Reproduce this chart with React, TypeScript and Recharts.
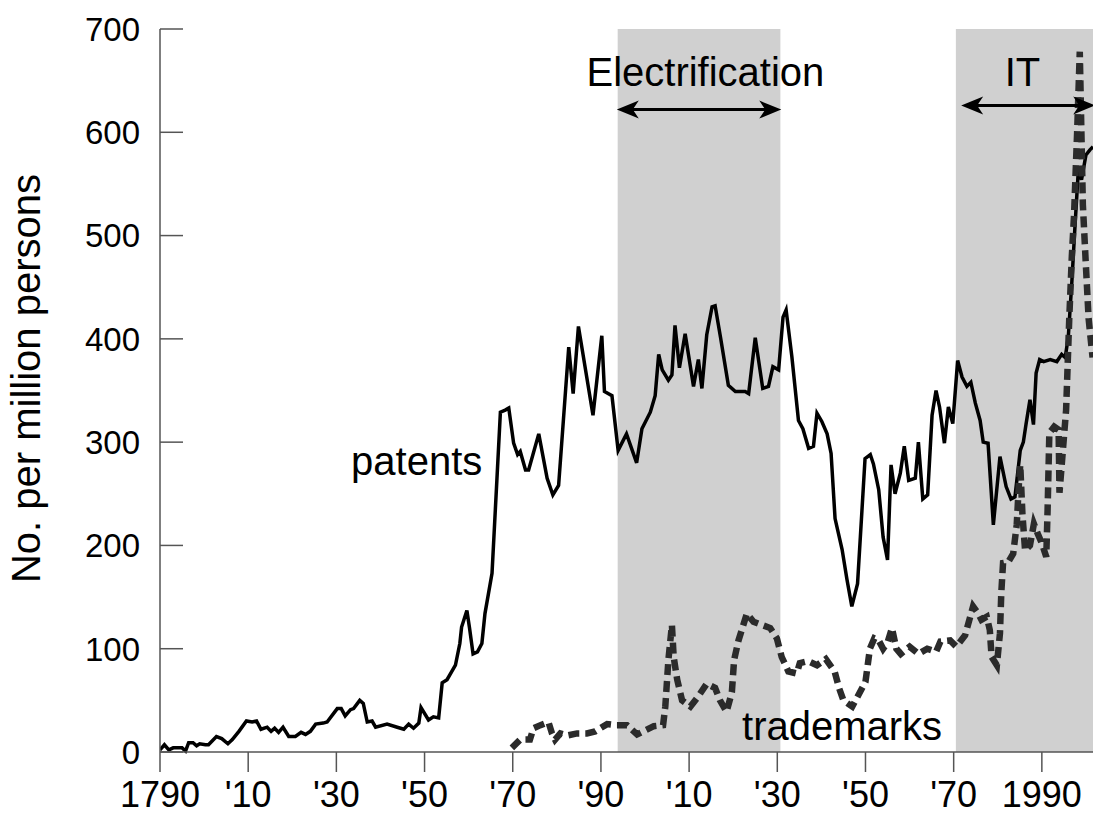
import React from 'react'
import {Label, Line, LineChart, ReferenceArea, ReferenceDot, ReferenceLine, XAxis, YAxis} from 'recharts'

const font = '"Liberation Sans", Arial, Helvetica, sans-serif'

// patents per million persons
const patentYears = [
    1790, 1791, 1792, 1793, 1795, 1795.8, 1796.5, 1797.5, 1798.3, 1799, 1800.3, 1801, 1802.8, 1804, 1805.4, 1806.4,
    1807.9, 1809.6, 1810.9, 1811.9, 1812.9, 1814.3, 1815.2, 1816, 1816.9, 1817.9, 1819.2, 1820.7, 1822, 1823, 1824.1,
    1825.3, 1827, 1827.9, 1830.2, 1831.1, 1832, 1833.2, 1833.9, 1835.3, 1836.1, 1837, 1838.1, 1838.9, 1841.5, 1843.8,
    1845.3, 1846.4, 1847.5, 1848.7, 1849.2, 1850.9, 1852, 1853.2, 1854, 1855.1, 1857, 1858, 1858.4, 1859.6, 1860.2,
    1861, 1862, 1863, 1863.7, 1865.3, 1866.4, 1867.2, 1868.3, 1869.1, 1870.2, 1871.1, 1871.7, 1872.9, 1873.6, 1875.9,
    1877.8, 1879.1, 1880.4, 1882.7, 1883.7, 1884.9, 1888.2, 1890.2, 1890.8, 1892.5, 1893.9, 1895.8, 1898.1, 1899.3,
    1901.2, 1902.3, 1903.1, 1903.9, 1905.3, 1906.1, 1906.8, 1907.8, 1909.1, 1911, 1912.1, 1912.9, 1914, 1915.2, 1915.9,
    1917.1, 1918.9, 1920.5, 1922.7, 1923.5, 1925, 1926.7, 1928, 1929, 1930.3, 1931.3, 1932, 1933.3, 1934.8, 1935.8,
    1937.1, 1938.2, 1939, 1940.1, 1941.3, 1942.2, 1943.1, 1944.7, 1945.8, 1946.9, 1948.2, 1949.2, 1949.9, 1951.1,
    1951.8, 1953, 1954, 1955, 1955.8, 1956.7, 1957.9, 1958.8, 1959.8, 1961.3, 1962, 1963, 1964.1, 1965.1, 1966, 1966.8,
    1967.9, 1968.8, 1969.8, 1970.9, 1971.9, 1973, 1973.9, 1974.9, 1976, 1976.7, 1977.8, 1979, 1980.5, 1981.9, 1983,
    1983.9, 1985.1, 1985.8, 1986.4, 1987.3, 1988.1, 1988.7, 1989.5, 1990.4, 1991.9, 1993.4, 1994.5, 1995.3, 1996,
    1996.8, 1997.5, 1998.3, 1999, 2000, 2000.9, 2001.6,
]
const patentValues = [
    2, 7, 2, 4, 4, 1, 9, 9, 6, 8, 7, 7, 15, 13, 8, 12,
    20, 30, 29, 30, 22, 24, 20, 23, 19, 24, 15, 15, 19, 17, 20,
    27, 28, 29, 42, 42, 35, 41, 42, 50, 47, 29, 30, 24, 27, 24,
    22, 27, 23, 28, 43, 31, 34, 33, 67, 70, 84, 105, 121, 137, 120,
    95, 97, 105, 134, 173, 263, 329, 331, 333, 299, 288, 291, 273, 273, 308,
    265, 249, 258, 392, 347, 412, 326, 403, 349, 345, 292, 308, 280, 313,
    329, 345, 385, 370, 360, 365, 413, 372, 405, 354, 380, 352, 404, 431, 432,
    402, 355, 349, 349, 347, 401, 352, 354, 373, 370, 421, 428, 383, 321, 313,
    294, 296, 328, 320, 308, 289, 226, 196, 167, 141, 163, 234, 284, 288,
    279, 254, 208, 186, 278, 250, 270, 296, 263, 265, 300, 245, 249, 326, 350, 334,
    299, 334, 318, 379, 363, 354, 358, 338, 321, 300, 299, 220, 286, 257, 245,
    247, 292, 300, 317, 341, 317, 367, 380, 378, 380, 378, 385, 382, 402,
    455, 508, 565, 554, 578, 583, 586,
]

// trademarks per million persons
const trademarkYears = [
    1869.8, 1871.7, 1873.9, 1874.7, 1876.3, 1878.1, 1878.9, 1879.6, 1880.8, 1882.4, 1884.6, 1886.8, 1888.7, 1891.4,
    1893.3, 1895.9, 1898.2, 1900.1, 1902, 1904.1, 1904.6, 1905.3, 1906.1, 1906.5, 1907.3, 1908.4, 1910.3, 1912.1, 1914,
    1915.9, 1917, 1918.5, 1919.7, 1920.2, 1921.2, 1923.1, 1924.6, 1926.5, 1928.4, 1929.9, 1931, 1932.5, 1934.4, 1935.1,
    1937, 1939, 1941, 1943, 1944, 1945, 1947, 1948, 1950, 1951, 1952, 1953, 1954, 1955, 1956, 1957, 1958, 1960, 1962,
    1964, 1966, 1967, 1969.2, 1970.6, 1972.6, 1974.4, 1975.6, 1976.3, 1977.5, 1978.2, 1978.6, 1979.8, 1980.5, 1980.8,
    1981.2, 1982.4, 1983.5, 1984.3, 1984.8, 1985.1, 1985.6, 1986.2, 1987.3, 1988.2, 1989, 1990, 1991, 1991.3, 1991.7,
    1992.8, 1993.8, 1994, 1995.5, 1996.2, 1996.8, 1997.3, 1998, 1998.6, 1999.3, 2000, 2000.6, 2001.5,
]
const trademarkValues = [
    4, 12, 12, 23, 26, 29, 18, 12, 18, 16, 18, 18, 20, 27,
    26, 26, 17, 21, 25, 26, 44, 89, 123, 92, 70, 50, 44, 54, 66,
    62, 50, 39, 58, 89, 108, 134, 126, 123, 120, 110, 92, 78, 76, 86,
    88, 84, 90, 78, 62, 50, 44, 52, 68, 100, 110, 108, 100, 106, 120, 100, 95, 102, 95,
    100, 97, 107, 108, 102, 113, 141, 134, 128, 131, 118, 92, 84, 115, 154,
    183, 184, 192, 220, 260, 278, 230, 195, 200, 221, 212, 202, 189, 234, 309,
    315, 312, 251, 331, 418, 480, 520, 600, 678, 530, 470, 420, 382,
]

const xTicks = [1790, 1810, 1830, 1850, 1870, 1890, 1910, 1930, 1950, 1970, 1990]
const xTickLabels = ['1790', "'10", "'30", "'50", "'70", "'90", "'10", "'30", "'50", "'70", '1990']
const yTicks = [0, 100, 200, 300, 400, 500, 600, 700]

const eras = [
    {name: 'Electrification', from: 1893.8, to: 1930.7, arrowFrom: 1893.6, arrowTo: 1930.9, arrowAt: 622, textAt: 1913.7},
    {name: 'IT', from: 1970.5, to: 2001.6, arrowFrom: 1971.7, arrowTo: 2002.1, arrowAt: 626, textAt: 1985.6},
]

const patentData = patentYears.map((year, i) => ({year, value: patentValues[i]}))
const trademarkData = trademarkYears.map((year, i) => ({year, value: trademarkValues[i]}))

const YTick = (props: any) => {
    const {x, y, payload} = props
    return (
        <g>
            <line x1={x + 20} y1={y} x2={x + 43} y2={y} stroke="#555" strokeWidth={1.5} />
            <text x={x} y={y} dy="0.36em" textAnchor="end" fontSize={33} fill="#000" fontFamily={font}>
                {payload.value}
            </text>
        </g>
    )
}

const YTitle = (props: any) => {
    const vb = props.viewBox || {x: 0, y: 29, width: 160, height: 723}
    const px = vb.x + 40
    const py = vb.y + vb.height / 2 - 12
    return (
        <text x={px} y={py} transform={`rotate(-90 ${px} ${py})`} textAnchor="middle" fontSize={40} fill="#000" fontFamily={font}>
            No. per million persons
        </text>
    )
}

const DoubleArrow = (props: any) => {
    const {x1, y1, x2} = props
    const len = 22
    const half = 9
    return (
        <g>
            <line x1={x1 + 6} y1={y1} x2={x2 - 6} y2={y1} stroke="#000" strokeWidth={3} />
            <polygon points={`${x1},${y1} ${x1 + len},${y1 - half} ${x1 + len - 6},${y1} ${x1 + len},${y1 + half}`} fill="#000" />
            <polygon points={`${x2},${y1} ${x2 - len},${y1 - half} ${x2 - len + 6},${y1} ${x2 - len},${y1 + half}`} fill="#000" />
        </g>
    )
}

const textShape = (text: string, anchor: 'start' | 'middle' | 'end') => (props: any) => (
    <text x={props.cx} y={props.cy} textAnchor={anchor} fontSize={40} fill="#000" fontFamily={font}>
        {text}
    </text>
)

const App = () => {
    return (
        <div style={{position: 'absolute', left: 0, top: 0, background: '#fff'}}>
            <LineChart width={1093} height={822} margin={{top: 29, right: 0, bottom: 0, left: 0}}>
                {eras.map((e) => (
                    <ReferenceArea key={e.name} x1={e.from} x2={e.to} y1={0} y2={700} fill="#d0d0d0" fillOpacity={1} stroke="none" ifOverflow="visible" />
                ))}
                <XAxis
                    type="number"
                    dataKey="year"
                    domain={[1790, 2001.6]}
                    allowDataOverflow
                    ticks={xTicks}
                    tickFormatter={(v: number) => xTickLabels[xTicks.indexOf(v)] ?? String(v)}
                    height={70}
                    tickSize={20}
                    tickMargin={9}
                    interval={0}
                    axisLine={{stroke: '#555', strokeWidth: 1.5}}
                    tickLine={{stroke: '#555', strokeWidth: 1.5}}
                    tick={{fontSize: 36, fill: '#000', fontFamily: font}}
                />
                <YAxis
                    type="number"
                    domain={[0, 700]}
                    ticks={yTicks}
                    interval={0}
                    width={160}
                    tickSize={10}
                    tickMargin={10}
                    tickLine={false}
                    axisLine={{stroke: '#555', strokeWidth: 1.5}}
                    tick={YTick}
                >
                    <Label content={YTitle} />
                </YAxis>
                <Line data={patentData} dataKey="value" type="linear" stroke="#000" strokeWidth={3.5} dot={false} isAnimationActive={false} />
                <Line data={trademarkData} dataKey="value" type="linear" stroke="#2b2b2b" strokeWidth={6.5} strokeDasharray="11 6" dot={false} isAnimationActive={false} />
                {eras.map((e) => (
                    <ReferenceLine
                        key={e.name + '-arrow'}
                        segment={[{x: e.arrowFrom, y: e.arrowAt}, {x: e.arrowTo, y: e.arrowAt}]}
                        ifOverflow="visible"
                        shape={DoubleArrow}
                    />
                ))}
                {eras.map((e) => (
                    <ReferenceDot key={e.name + '-text'} x={e.textAt} y={645} r={0} ifOverflow="visible" shape={textShape(e.name, 'middle')} />
                ))}
                <ReferenceDot x={1863.1} y={268} r={0} ifOverflow="visible" shape={textShape('patents', 'end')} />
                <ReferenceDot x={1922} y={12} r={0} ifOverflow="visible" shape={textShape('trademarks', 'start')} />
            </LineChart>
        </div>
    )
}

export default App
